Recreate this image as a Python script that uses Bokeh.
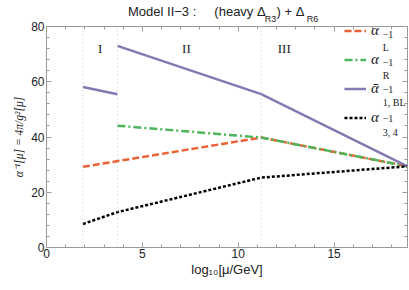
from bokeh.plotting import figure
from bokeh.models import (Legend, LegendItem, Label, Span, LinearAxis, FixedTicker,
                          SingleIntervalTicker, Range1d)
from bokeh.embed import file_html
from bokeh.resources import INLINE

# ---- data ----
boundaries = [1.9, 3.7, 11.2]          # log10(mu/GeV) thresholds
x_L = [1.9, 11.2, 18.83]
y_L = [29.2, 39.8, 29.4]               # alpha_L^-1
x_R = [3.7, 11.2, 18.83]
y_R = [44.1, 39.8, 29.4]               # alpha_R^-1
x_BL1 = [1.9, 3.7]
y_BL1 = [58.1, 55.5]                   # alpha_1,BL^-1 (region I)
x_BL2 = [3.7, 11.2, 18.83]
y_BL2 = [73.0, 55.5, 29.4]             # alpha_1,BL^-1 (regions II, III)
x_34 = [1.9, 3.7, 11.2, 18.83]
y_34 = [8.5, 12.8, 25.3, 29.4]         # alpha_3,4^-1
region_names = ["I", "II", "III"]
region_x = [2.8, 7.3, 12.4]
region_y = [72, 72, 72]
legend_subs = ["L", "R", "1, BL", "3, 4"]
x_ticks = [0, 5, 10, 15]
y_ticks = [0, 20, 40, 60, 80]

RED = "#EB6235"
GREEN = "#4DB55A"
PURPLE = "#8778B3"
AX = "#9a9a9a"
TXT = "#222222"

# pixel -> data helpers for annotation placement (frame: x 46..407, y 19..247)
def dx(px):
    return (px - 45.8) / 19.17

def dy(py):
    return (247 - py) / 2.85

NB = "\u00a0"
p = figure(width=409, height=290, x_range=Range1d(0, 18.83), y_range=Range1d(0, 80),
           output_backend="svg", toolbar_location=None, title=None,
           min_border_left=46, min_border_right=2, min_border_top=19, min_border_bottom=43)
p.grid.visible = False
p.outline_line_color = AX
p.background_fill_color = "white"

def style_axis(ax, show_labels=True, ticks=None):
    ax.axis_line_color = AX
    ax.major_tick_line_color = AX
    ax.minor_tick_line_color = AX
    ax.major_tick_in = 5
    ax.major_tick_out = 0
    ax.minor_tick_in = 3
    ax.minor_tick_out = 0
    if show_labels:
        ax.major_label_text_font = "Liberation Sans"
        ax.major_label_text_font_size = "12px"
        ax.major_label_text_color = TXT
        ax.major_label_standoff = 2
    else:
        ax.major_label_overrides = {t: "" for t in ticks}
        ax.major_label_standoff = 0

p.xaxis.ticker = SingleIntervalTicker(interval=5, num_minor_ticks=5)
p.yaxis.ticker = SingleIntervalTicker(interval=20, num_minor_ticks=5)
for ax in p.xaxis + p.yaxis:
    style_axis(ax)
p.xaxis.major_label_standoff = 1

p.xaxis.axis_label = "log₁₀[μ/GeV]"
p.xaxis.axis_label_text_font = "Liberation Sans"
p.xaxis.axis_label_text_font_style = "normal"
p.xaxis.axis_label_text_font_size = "13px"
p.xaxis.axis_label_text_color = TXT
p.xaxis.axis_label_standoff = 1

p.yaxis.axis_label = "α⁻¹[μ] = 4π/g²[μ]"
p.yaxis.axis_label_text_font = "Liberation Serif"
p.yaxis.axis_label_text_font_style = "italic"
p.yaxis.axis_label_text_font_size = "11.5px"
p.yaxis.axis_label_text_color = TXT
p.yaxis.axis_label_standoff = 3

top = LinearAxis(ticker=SingleIntervalTicker(interval=5, num_minor_ticks=5))
right = LinearAxis(ticker=SingleIntervalTicker(interval=20, num_minor_ticks=5))
style_axis(top, False, x_ticks)
style_axis(right, False, y_ticks)
p.add_layout(top, "above")
p.add_layout(right, "right")

# title: main text as the label of an extra (tick-less) top axis, subscripts as its tick labels
title_main = "Model II−3 :" + NB * 5 + "(heavy Δ" + NB * 3 + ") + Δ" + NB * 6
sub_pos = [dx(264 + 5.75), dx(306 + 5.75)]
sub_axis = LinearAxis(ticker=FixedTicker(ticks=sub_pos, minor_ticks=[]),
                      major_label_overrides={sub_pos[0]: "R3", sub_pos[1]: "R6"},
                      axis_line_color=None, major_tick_line_color=None,
                      minor_tick_line_color=None, major_tick_in=0, major_tick_out=0,
                      minor_tick_in=0, minor_tick_out=0, major_label_standoff=3,
                      major_label_text_font="Liberation Sans",
                      major_label_text_font_size="9px", major_label_text_color=TXT,
                      axis_label=title_main, axis_label_standoff=-8,
                      axis_label_text_font="Liberation Sans",
                      axis_label_text_font_style="normal",
                      axis_label_text_font_size="13px", axis_label_text_color=TXT)
p.add_layout(sub_axis, "above")

for b in boundaries:
    p.add_layout(Span(location=b, dimension="height", line_color="#c4c4c4",
                      line_dash="1 3", line_width=1))

r_L = p.line(x_L, y_L, line_color=RED, line_width=2.5, line_dash="7 3")
r_R = p.line(x_R, y_R, line_color=GREEN, line_width=2.5, line_dash="8 3 2 3")
r_BL1 = p.line(x_BL1, y_BL1, line_color=PURPLE, line_width=2.5)
r_BL2 = p.line(x_BL2, y_BL2, line_color=PURPLE, line_width=2.5)
r_34 = p.line(x_34, y_34, line_color="black", line_width=2.5, line_dash="3 2")

for name, rx, ry in zip(region_names, region_x, region_y):
    p.add_layout(Label(x=rx, y=ry, text=name, text_align="center", text_baseline="middle",
                       text_font="Liberation Serif", text_font_size="13px", text_color=TXT))

legend = Legend(items=[LegendItem(label="α", renderers=[r_L]),
                       LegendItem(label="α", renderers=[r_R]),
                       LegendItem(label="ᾱ", renderers=[r_BL2]),
                       LegendItem(label="α", renderers=[r_34])],
                location=(298, 121), glyph_width=22, glyph_height=17, label_height=17,
                spacing=12, padding=0, margin=0, border_line_color=None,
                background_fill_alpha=0, label_text_font="Liberation Serif",
                label_text_font_style="italic", label_text_font_size="15px",
                label_text_color=TXT, label_standoff=5)
p.add_layout(legend)

item_py = [34.3, 63.7, 91.0, 121.7]
for s, cy in zip(legend_subs, item_py):
    p.add_layout(Label(x=dx(382), y=dy(cy - 7.3), text="−1",
                       text_baseline="middle", text_font="Liberation Serif",
                       text_font_size="10px", text_color=TXT))
    p.add_layout(Label(x=dx(382), y=dy(cy + 6.2), text=s,
                       text_baseline="middle", text_font="Liberation Serif",
                       text_font_size="10px", text_color=TXT))

open("out.html", "w").write(file_html(p, INLINE))
